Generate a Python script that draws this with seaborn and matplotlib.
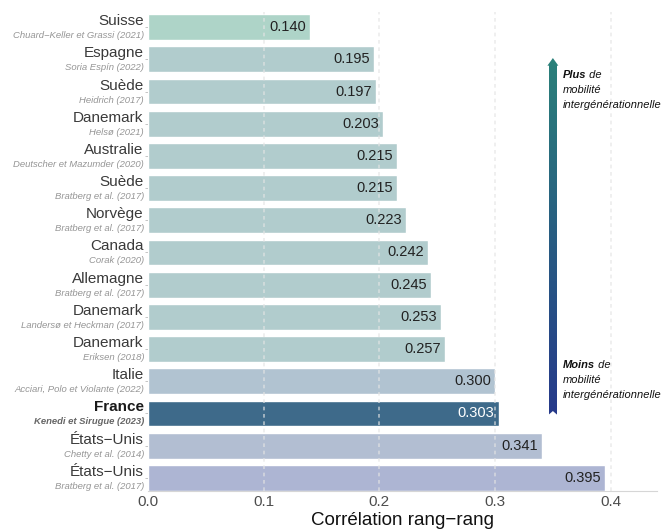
import numpy as np
import matplotlib
matplotlib.use("Agg")
import matplotlib.pyplot as plt
from matplotlib.collections import PolyCollection
from matplotlib.colors import to_rgb
import seaborn as sns

countries = ["Suisse", "Espagne", "Suède", "Danemark", "Australie", "Suède", "Norvège",
             "Canada", "Allemagne", "Danemark", "Danemark", "Italie", "France",
             "États−Unis", "États−Unis"]
sources = ["Chuard−Keller et Grassi (2021)", "Soria Espín (2022)", "Heidrich (2017)",
           "Helsø (2021)", "Deutscher et Mazumder (2020)", "Bratberg et al. (2017)",
           "Bratberg et al. (2017)", "Corak (2020)", "Bratberg et al. (2017)",
           "Landersø et Heckman (2017)", "Eriksen (2018)",
           "Acciari, Polo et Violante (2022)", "Kenedi et Sirugue (2023)",
           "Chetty et al. (2014)", "Bratberg et al. (2017)"]
values = [0.140, 0.195, 0.197, 0.203, 0.215, 0.215, 0.223, 0.242, 0.245, 0.253,
          0.257, 0.300, 0.303, 0.341, 0.395]
xticks = [0.0, 0.1, 0.2, 0.3, 0.4]
xticklabels = ["0.0", "0.1", "0.2", "0.3", "0.4"]
highlight = "France"

bar_colors = ["#aed4c8"] + ["#b1cccd"] * 10 + ["#b1c3d1", "#3e6a8a", "#b2bed2", "#adb5d3"]

sns.set_theme(style="white")
plt.rcParams["font.family"] = ["Liberation Sans", "DejaVu Sans"]

labels = [f"{c}\n{s}" for c, s in zip(countries, sources)]

fig = plt.figure(figsize=(6.67, 5.31), dpi=100)
ax = fig.add_axes([0.2219, 0.0753, 0.7631, 0.9021])

sns.barplot(x=values, y=labels, hue=labels, palette=bar_colors, legend=False,
            width=0.8, saturation=1, orient="h", ax=ax, zorder=1)

ax.set_xlim(0, 0.44)
ax.set_ylim(14.41, -0.47)

for xv in xticks[1:]:
    ax.axvline(xv, color="#e4e4e4", alpha=0.7, lw=1.2, ls=(0, (2.2, 2.2)), zorder=2)

for s in ["top", "right", "left"]:
    ax.spines[s].set_visible(False)
ax.spines["bottom"].set_color("#d6d6d6")
ax.spines["bottom"].set_linewidth(0.8)

ax.set_xticks(xticks)
ax.set_xticklabels(xticklabels, color="#4d4d4d", fontsize=11)
ax.tick_params(axis="x", length=0, pad=3)
ax.set_yticks(range(len(labels)))
ax.set_yticklabels([])
ax.tick_params(axis="y", length=2.5, width=0.6, color="#bbbbbb", left=True)
ax.set_ylabel("")
ax.set_xlabel("Corrélation rang−rang", fontsize=13.5, color="#111111", labelpad=2)

for i, (c, s, v) in enumerate(zip(countries, sources, values)):
    hl = c == highlight
    ax.annotate(c, xy=(0, i), xycoords=("axes fraction", "data"), xytext=(-4.5, 2),
                textcoords="offset pixels", ha="right", va="baseline", fontsize=11,
                color="#1a1a1a" if hl else "#3a3a3a",
                fontweight="bold" if hl else "normal", annotation_clip=False)
    ax.annotate(s, xy=(0, i), xycoords=("axes fraction", "data"), xytext=(-4, -11),
                textcoords="offset pixels", ha="right", va="baseline", fontsize=6.8,
                color="#666666" if hl else "#959595", style="italic",
                fontweight="bold" if hl else "normal", annotation_clip=False)
    ax.annotate(f"{v:.3f}", xy=(v, i), xytext=(-4, 0), textcoords="offset pixels",
                ha="right", va="center", fontsize=10.5,
                color="white" if hl else "#222222", zorder=4)

# gradient arrow
ax_x = 0.35
px_x = 0.44 / (0.7631 * 667)
px_y = (14.41 + 0.47) / (0.9021 * 531)
tip, head_base, bottom = 0.96, 0.96 + 7 * px_y, 12.05
half_shaft, half_head = 4 * px_x, 5.5 * px_x
top_col = np.array(to_rgb("#2a8079"))
bot_col = np.array(to_rgb("#26398a"))
n = 120
ys = np.linspace(head_base, bottom, n + 1)
polys, cols = [], []
for k in range(n):
    y0, y1 = ys[k], ys[k + 1]
    polys.append([(ax_x - half_shaft, y0), (ax_x + half_shaft, y0),
                  (ax_x + half_shaft, y1 + 0.01), (ax_x - half_shaft, y1 + 0.01)])
    t = (0.5 * (y0 + y1) - tip) / (bottom - tip)
    cols.append(top_col * (1 - t) + bot_col * t)
ax.add_collection(PolyCollection(polys, facecolors=cols, edgecolors="none", zorder=5))
ax.add_patch(plt.Polygon([(ax_x - half_head, head_base + 0.02), (ax_x + half_head, head_base + 0.02),
                          (ax_x, tip)], closed=True, facecolor=top_col, edgecolor="none", zorder=5))
ax.add_patch(plt.Polygon([(ax_x - half_shaft - px_x, bottom + 0.01), (ax_x + half_shaft + px_x, bottom + 0.01),
                          (ax_x, bottom - 4 * px_y)], closed=True, facecolor="white",
                         edgecolor="none", zorder=6))

# annotations
tx = 0.3587
for head, y0 in [("Plus", 1.49), ("Moins", 10.5)]:
    t1 = ax.text(tx, y0, head, fontsize=8, style="italic", fontweight="bold",
                 color="#111111", ha="left", va="center", zorder=6)
    ax.annotate(" de", xy=(1, 0.5), xycoords=t1, ha="left", va="center",
                fontsize=8, style="italic", color="#111111")
    ax.text(tx, y0 + 15 * px_y, "mobilité", fontsize=8, style="italic",
            color="#111111", ha="left", va="center", zorder=6)
    ax.text(tx, y0 + 30 * px_y, "intergénérationnelle", fontsize=8, style="italic",
            color="#111111", ha="left", va="center", zorder=6, clip_on=False)

fig.savefig("out.png", dpi=100)
